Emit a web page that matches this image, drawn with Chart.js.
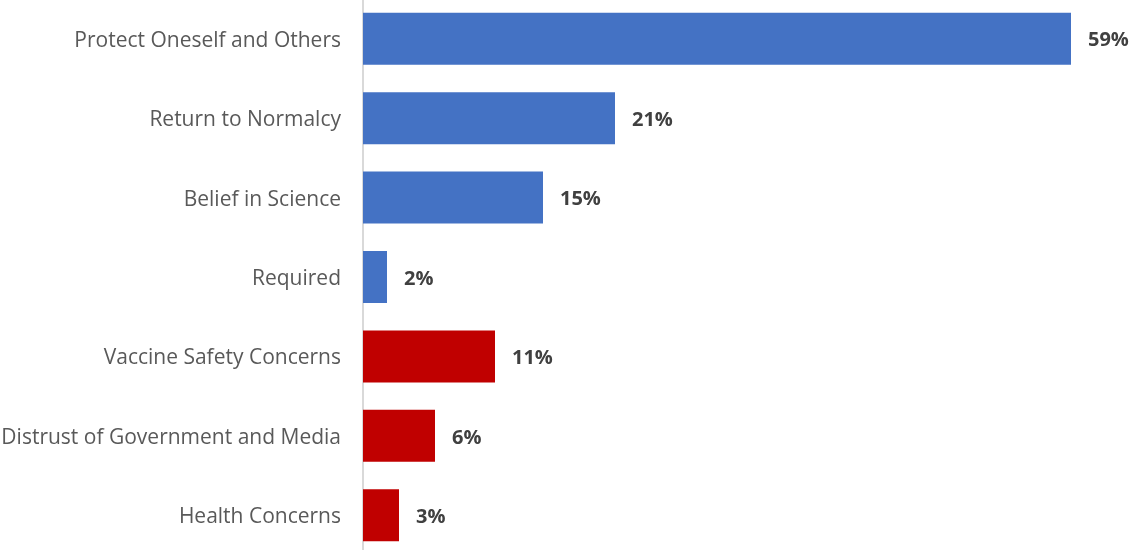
<!DOCTYPE html>
<html>
<head>
<meta charset="utf-8">
<script src="https://cdn.jsdelivr.net/npm/chart.js@4"></script>
<style>
  html, body { margin: 0; padding: 0; background: #fff; overflow: hidden; }
  #wrap { position: relative; width: 1137px; height: 550px; overflow: hidden; }
  #wrap canvas { position: absolute; top: -1px; left: 0; }
</style>
</head>
<body>
<div id="wrap"><canvas id="c" width="1137" height="556"></canvas></div>
<script>
// Reasons given for getting (or not getting) the vaccine, share of respondents
const reasons = [
  'Protect Oneself and Others',
  'Return to Normalcy',
  'Belief in Science',
  'Required',
  'Vaccine Safety Concerns',
  'Distrust of Government and Media',
  'Health Concerns'
];
const shares = [59, 21, 15, 2, 11, 6, 3];
const groups = ['for', 'for', 'for', 'for', 'against', 'against', 'against'];

const groupColors = { for: '#4472C4', against: '#C00000' };

// Bold percentage label just past the end of each bar
const valueLabels = {
  id: 'valueLabels',
  afterDatasetsDraw(chart) {
    const ctx = chart.ctx;
    const meta = chart.getDatasetMeta(0);
    ctx.save();
    ctx.font = 'bold 20px "Open Sans", sans-serif';
    ctx.fillStyle = '#404040';
    ctx.textAlign = 'left';
    ctx.textBaseline = 'middle';
    meta.data.forEach((bar, i) => {
      ctx.fillText(shares[i] + '%', bar.x + 17, bar.y + 2);
    });
    ctx.restore();
  }
};

new Chart(document.getElementById('c'), {
  type: 'bar',
  data: {
    labels: reasons,
    datasets: [{
      data: shares,
      backgroundColor: groups.map(g => groupColors[g]),
      borderWidth: 0,
      categoryPercentage: 1,
      barPercentage: 0.655
    }]
  },
  options: {
    indexAxis: 'y',
    responsive: false,
    animation: false,
    layout: { autoPadding: false, padding: { left: 0, right: 6, top: 0, bottom: 0 } },
    plugins: {
      legend: { display: false },
      tooltip: { enabled: false }
    },
    scales: {
      x: {
        min: 0,
        max: 64,
        display: false,
        grid: { display: false }
      },
      y: {
        afterFit(scale) {
          // fixed label column; the category axis runs the full height
          scale.width = 363;
          scale.paddingTop = 0;
          scale.paddingBottom = 0;
        },
        grid: { display: false, drawTicks: false },
        border: { display: true, color: '#d9d9d9', width: 2 },
        ticks: {
          padding: 22,
          labelOffset: 2,
          color: '#595959',
          font: { family: '"Open Sans", sans-serif', size: 21 }
        }
      }
    }
  },
  plugins: [valueLabels]
});
</script>
</body>
</html>
